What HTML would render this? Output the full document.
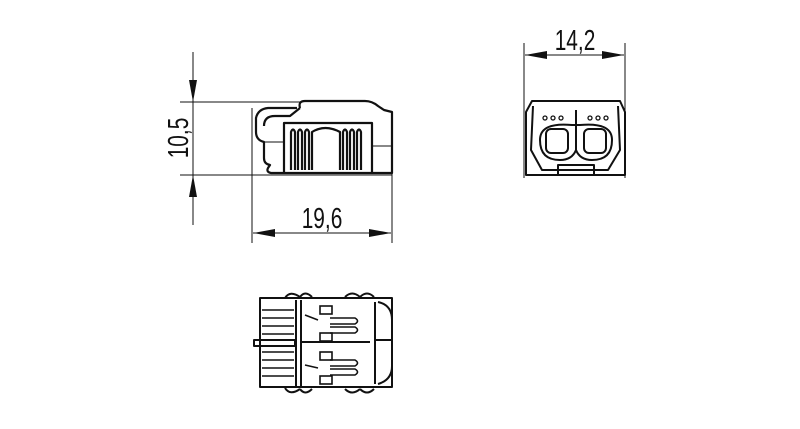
<!DOCTYPE html>
<html><head><meta charset="utf-8"><style>
html,body{margin:0;padding:0;background:#fff;width:800px;height:429px;overflow:hidden}
svg{display:block}
text{font-family:"Liberation Sans",sans-serif;font-size:29px;fill:#111}
</style></head><body>
<svg width="800" height="429" viewBox="0 0 800 429" xmlns="http://www.w3.org/2000/svg">
<g stroke="#111" fill="none" stroke-width="1">
<line x1="193" y1="52" x2="193" y2="225"/>
<line x1="180" y1="102" x2="300" y2="102"/>
<line x1="180" y1="175" x2="392" y2="175"/>
<line x1="252" y1="108" x2="252" y2="243"/>
<line x1="392" y1="112" x2="392" y2="243"/>
<line x1="253" y1="233" x2="391" y2="233"/>
<line x1="524" y1="43" x2="524" y2="178"/>
<line x1="625" y1="43" x2="625" y2="178"/>
<line x1="525" y1="55" x2="624" y2="55"/>
</g>
<g fill="#111">
<polygon points="193,102 189,80 197,80"/>
<polygon points="193,175 189,197 197,197"/>
<polygon points="253,233 275,229 275,237"/>
<polygon points="391,233 369,229 369,237"/>
<polygon points="525,55 547,51 547,59"/>
<polygon points="624,55 602,51 602,59"/>
</g>
<text transform="translate(188,138) rotate(-90) scale(0.72,1)" text-anchor="middle">10,5</text>
<text transform="translate(322,228) scale(0.72,1)" text-anchor="middle">19,6</text>
<text transform="translate(575,50) scale(0.72,1)" text-anchor="middle">14,2</text>
<g stroke="#111" fill="none" stroke-width="2.2" stroke-linejoin="round">
<path d="M300,108 Q298,101 305,101 L365,101 Q372,101 378,106 L384,110 L392,112 L392,173 L271,173 Q266,172 268,168 L270,165 Q264,164 264,158 L264,142 Q256,140 256,132 L256,118 Q258,109 268,108 L297,108"/>
<path d="M264,126 Q264,116 275,116 L290,116 L300,108"/>
<path d="M284,173 L284,123 L372,123 L372,173"/>
<path d="M291,170 L291,132 Q293,127 295,132 L295,170 M298,170 L298,132 Q300,127 302,132 L302,170 M305,170 L305,132 Q307,127 309,132 L309,170 M312,170 L312,132 Q325,124 340,132 L340,170 M343,170 L343,132 Q345,127 347,132 L347,170 M350,170 L350,132 Q352,127 354,132 L354,170 M357,170 L357,132 Q359,127 361,132 L361,170"/>
</g>
<g stroke="#111" stroke-width="1"><line x1="264" y1="142" x2="284" y2="142"/><line x1="372" y1="146" x2="392" y2="146"/></g>
<g stroke="#111" fill="none" stroke-width="2" stroke-linejoin="round">
<path d="M532,101 L620,101 L625,112 L625,175 L526,175 L526,112 Z"/>
<path d="M533,106 L531,150 L542,170 L608,170 L620,150 L618,106"/>
<path d="M572,125 Q540,122 540,140 Q540,160 560,160 Q572,160 576,150 Q580,160 592,160 Q612,160 612,140 Q612,122 580,125 Z"/>
<rect x="546" y="129" width="22" height="24" rx="5"/>
<rect x="584" y="129" width="22" height="24" rx="5"/>
<line x1="576" y1="110" x2="576" y2="150"/>
<path d="M558,175 L558,165 L594,165 L594,175"/>
</g>
<g fill="none" stroke="#111" stroke-width="1.3">
<circle cx="545" cy="118" r="2"/><circle cx="553" cy="118" r="2"/><circle cx="561" cy="118" r="2"/>
<circle cx="590" cy="118" r="2"/><circle cx="598" cy="118" r="2"/><circle cx="606" cy="118" r="2"/>
</g>
<g stroke="#111" fill="none" stroke-width="2" stroke-linejoin="round">
<path d="M260,298 L392,298 L392,387 L260,387 Z"/>
<path d="M285,298 Q290,290 300,297 M300,297 Q305,290 312,297 M345,297 Q352,290 360,297 M360,297 Q367,290 374,297"/>
<path d="M285,388 Q290,396 300,389 M300,389 Q305,396 312,389 M345,389 Q352,396 360,389 M360,389 Q367,396 374,389"/>
<line x1="296" y1="300" x2="296" y2="386"/>
<line x1="301" y1="300" x2="301" y2="386"/>
<path d="M254,340 L295,340 L295,346 L254,346 Z"/>
<path d="M375,302 L375,384 M375,340 L392,340 M378,302 Q392,305 392,320 M378,384 Q392,380 392,366"/>
<line x1="301" y1="342" x2="370" y2="342"/>
</g>
<g stroke="#111" stroke-width="1.6" fill="none">
<line x1="262" y1="310" x2="294" y2="310"/><line x1="262" y1="318" x2="294" y2="318"/><line x1="262" y1="326" x2="294" y2="326"/><line x1="262" y1="334" x2="294" y2="334"/>
<line x1="262" y1="352" x2="294" y2="352"/><line x1="262" y1="360" x2="294" y2="360"/><line x1="262" y1="368" x2="294" y2="368"/><line x1="262" y1="376" x2="294" y2="376"/>
<rect x="320" y="306" width="12" height="8"/><rect x="320" y="333" width="12" height="8"/><rect x="320" y="352" width="12" height="8"/><rect x="320" y="376" width="12" height="8"/>
<path d="M330,318 L355,318 Q360,321 355,324 L330,324 M330,327 L355,327 Q360,330 355,333 L330,333"/>
<path d="M330,360 L355,360 Q360,363 355,366 L330,366 M330,369 L355,369 Q360,372 355,375 L330,375"/>
<path d="M305,315 L318,320 M305,365 L318,368"/>
</g>
</svg>
</body></html>
